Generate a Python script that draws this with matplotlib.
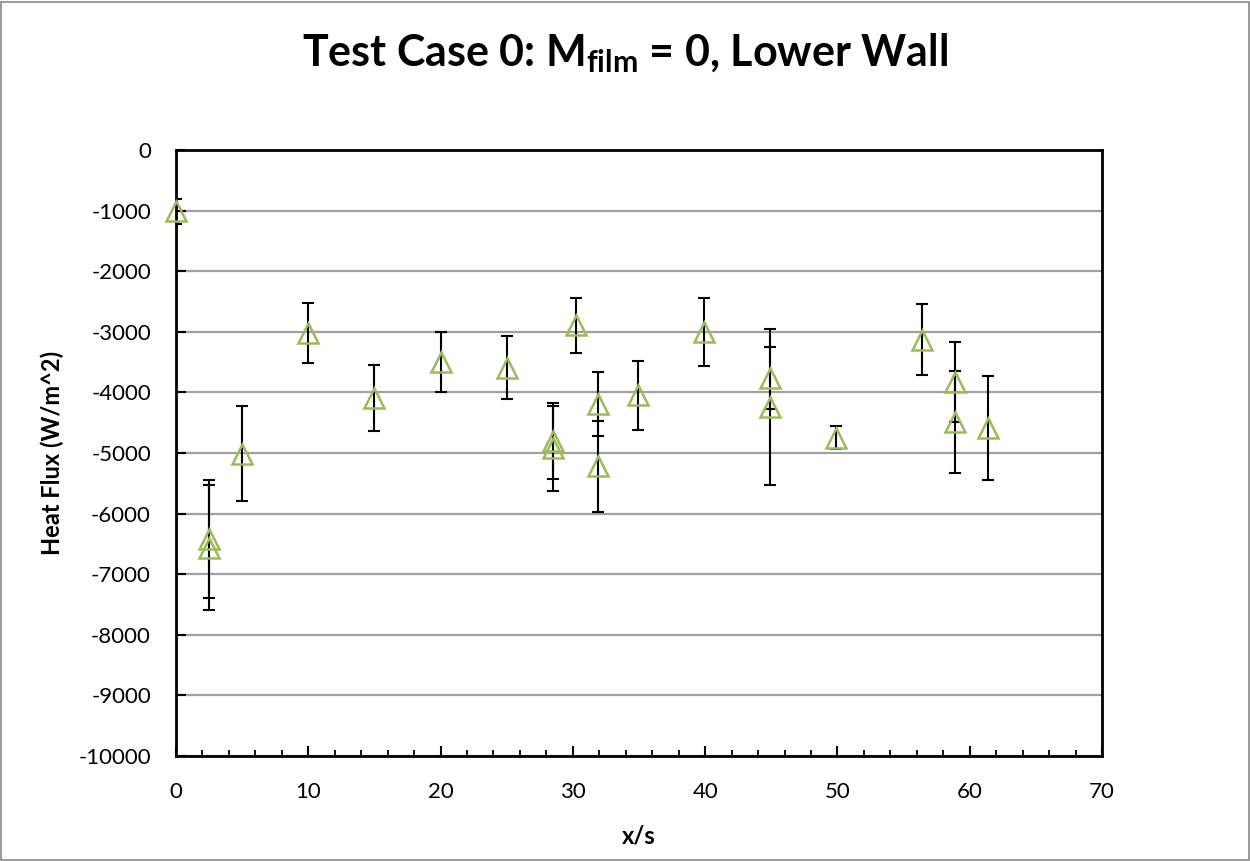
import numpy as np
import matplotlib
matplotlib.use("Agg")
import matplotlib.pyplot as plt
from matplotlib.ticker import MultipleLocator
from matplotlib.patches import Rectangle

plt.rcParams['font.family'] = ['Lato', 'DejaVu Sans']
plt.rcParams['mathtext.fontset'] = 'custom'
plt.rcParams['mathtext.rm'] = 'Lato'
plt.rcParams['mathtext.bf'] = 'Lato:bold'
plt.rcParams['axes.unicode_minus'] = False

# Data
x_pos = [0, 2.5, 2.5, 5, 10, 15, 20, 25, 28.5, 28.5, 30.2, 31.9, 31.9,
         34.9, 39.9, 44.9, 44.9, 49.9, 56.4, 58.9, 58.9, 61.4]
heat_flux = [-1013, -6413, -6562, -5013, -3020, -4094, -3499, -3592, -4805, -4921,
             -2893, -4198, -5223, -4050, -3003, -3757, -4243, -4749, -3129,
             -3829, -4490, -4584]
flux_err = [210, 975, 1035, 780, 500, 545, 490, 525, 630, 700,
            450, 530, 749, 570, 560, 510, 1290, 190, 590,
            661, 835, 857]

fig = plt.figure(figsize=(12.5, 8.61), dpi=100)
ax = fig.add_axes([0.1408, 0.1220, 0.7408, 0.7038])

ax.errorbar(x_pos, heat_flux, yerr=flux_err, fmt='none', ecolor='black',
            elinewidth=1.5, capsize=4.5, capthick=1.5, zorder=3)
ax.plot(x_pos, heat_flux, linestyle='none', marker='^', markersize=14,
        markerfacecolor='none', markeredgecolor='#9BBB59', markeredgewidth=1.8,
        zorder=4, clip_on=False)

ax.set_xlim(0, 70)
ax.set_ylim(-10000, 0)
ax.xaxis.set_major_locator(MultipleLocator(10))
ax.xaxis.set_minor_locator(MultipleLocator(2))
ax.yaxis.set_major_locator(MultipleLocator(1000))

ax.yaxis.grid(True, color='#a0a0a0', linewidth=1.6)
ax.set_axisbelow(True)

for sp in ax.spines.values():
    sp.set_linewidth(2)
    sp.set_color('black')

ax.tick_params(axis='both', which='major', direction='in', length=7, width=1.5,
               labelsize=16)
ax.tick_params(axis='x', which='major', pad=19)
ax.tick_params(axis='x', which='minor', direction='in', length=4, width=1.3)
ax.tick_params(axis='y', pad=18)

ax.set_xlabel('x/s', fontsize=17, fontweight='bold', labelpad=16)
ax.set_ylabel('Heat Flux (W/m^2)', fontsize=17, fontweight='bold', labelpad=10)

fig.text(0.5, 0.938, r'Test Case 0: $\mathbf{M_{film}}$ = 0, Lower Wall',
         ha='center', va='center', fontsize=31, fontweight='bold')

fig.patches.append(Rectangle((0.001, 0.001), 0.998, 0.997, transform=fig.transFigure,
                             fill=False, edgecolor='#888888', linewidth=1.2))

fig.savefig('out.png', dpi=100)
